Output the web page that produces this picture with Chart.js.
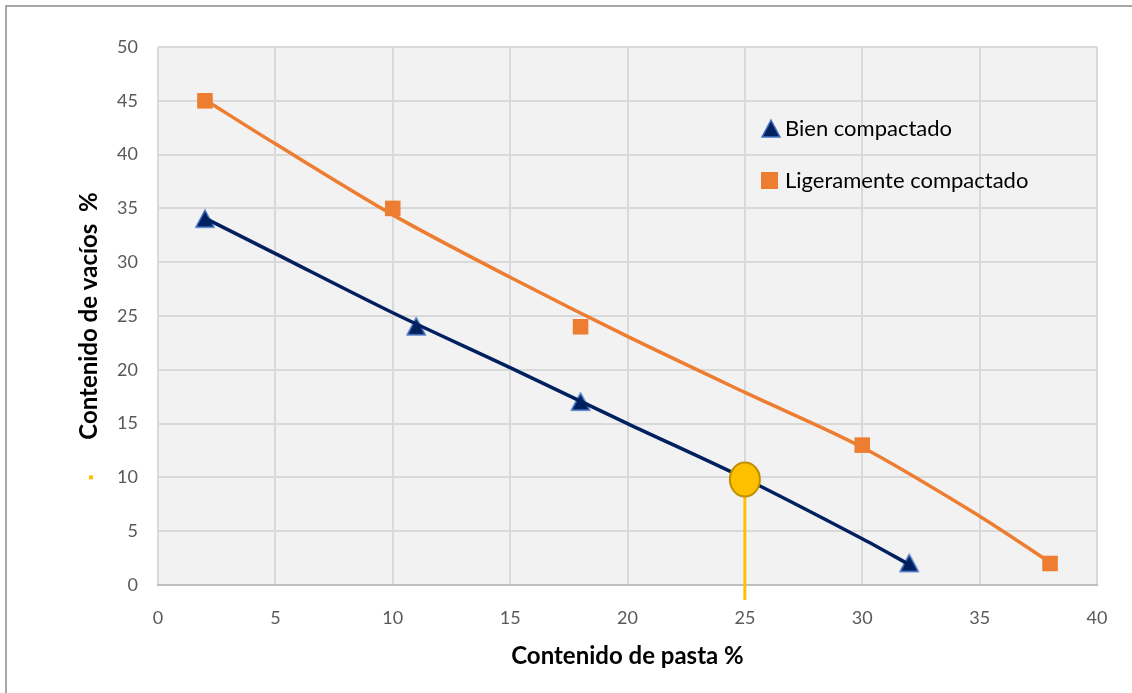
<!DOCTYPE html>
<html lang="es">
<head>
    <meta charset="UTF-8">
    <title>Contenido de vacíos vs contenido de pasta</title>
    <script src="https://cdn.jsdelivr.net/npm/chart.js"></script>
    <style>
        body { margin: 0; background: #fff; }
        #wrap { width: 1132px; height: 693px; position: relative; }
    </style>
</head>
<body>
<div id="wrap"><canvas id="chart" width="1132" height="693"></canvas></div>
<script>
    // measured points
    const bienX = [2, 11, 18, 32];
    const bienY = [34, 24, 17, 2];
    const ligX = [2, 10, 18, 30, 38];
    const ligY = [45, 35, 24, 13, 2];

    // trend lines
    const bienTrendX = [2, 5, 10, 15, 20, 25, 30, 32];
    const bienTrendY = [34.1, 30.8, 25.3, 20.2, 15.0, 9.9, 4.3, 1.9];
    const ligTrendX = [2, 5, 10, 15, 20, 25, 30, 35, 38];
    const ligTrendY = [45.1, 41.0, 34.4, 28.6, 23.1, 17.9, 12.8, 6.4, 2.1];

    // highlighted point
    const markX = [25];
    const markY = [9.8];

    const seriesNames = ['Bien compactado', 'Ligeramente compactado'];
    const xTicks = [0, 5, 10, 15, 20, 25, 30, 35, 40];
    const yTicks = [0, 5, 10, 15, 20, 25, 30, 35, 40, 45, 50];

    const navy = '#002060';
    const orange = '#ed7d31';
    const yellow = '#ffc000';
    const fontFam = 'Lato, "Open Sans", sans-serif';

    const toPts = (xs, ys) => xs.map((x, i) => ({ x: x, y: ys[i] }));

    function triangle(size) {
        const c = document.createElement('canvas');
        c.width = size + 4; c.height = size + 4;
        const g = c.getContext('2d');
        g.beginPath();
        g.moveTo(c.width / 2, 2);
        g.lineTo(c.width - 2, c.height - 3);
        g.lineTo(2, c.height - 3);
        g.closePath();
        g.fillStyle = navy;
        g.fill();
        g.lineWidth = 1.5;
        g.strokeStyle = '#4472c4';
        g.stroke();
        return c;
    }
    const triImg = triangle(18);

    const extras = {
        id: 'extras',
        beforeDraw(chart) {
            const { ctx, chartArea: a } = chart;
            ctx.save();
            ctx.fillStyle = '#f2f2f2';
            ctx.fillRect(a.left, a.top, a.right - a.left, a.bottom - a.top);
            // outer frame (top + left)
            ctx.strokeStyle = '#a6a6a6';
            ctx.lineWidth = 2;
            ctx.beginPath();
            ctx.moveTo(6, 693);
            ctx.lineTo(6, 6);
            ctx.lineTo(1132, 6);
            ctx.stroke();
            ctx.restore();
        },
        afterDatasetsDraw(chart) {
            const { ctx, scales: { x, y } } = chart;
            ctx.save();
            const px = x.getPixelForValue(markX[0]);
            const py = y.getPixelForValue(markY[0]);
            // drop line from highlighted point
            ctx.strokeStyle = yellow;
            ctx.lineWidth = 3;
            ctx.beginPath();
            ctx.moveTo(px, py);
            ctx.lineTo(px, y.bottom + 15);
            ctx.stroke();
            // ellipse marker
            ctx.beginPath();
            ctx.ellipse(px, py, 15, 17, 0, 0, Math.PI * 2);
            ctx.fillStyle = yellow;
            ctx.fill();
            ctx.lineWidth = 2;
            ctx.strokeStyle = '#bf9000';
            ctx.stroke();

            // small stray mark near the y labels
            ctx.fillStyle = yellow;
            ctx.fillRect(89, y.getPixelForValue(10) - 2, 4, 4);

            // legend inside the plot
            ctx.font = '22px ' + fontFam;
            ctx.textBaseline = 'middle';
            ctx.fillStyle = '#000';
            ctx.drawImage(triImg, 760, 118, 22, 22);
            ctx.fillText(seriesNames[0], 785, 129);
            ctx.fillStyle = orange;
            ctx.fillRect(761, 172, 17, 17);
            ctx.fillStyle = '#000';
            ctx.fillText(seriesNames[1], 785, 181);
            ctx.restore();
        }
    };

    new Chart(document.getElementById('chart'), {
        type: 'scatter',
        data: {
            datasets: [
                {
                    label: 'trend1',
                    data: toPts(bienTrendX, bienTrendY),
                    showLine: true,
                    borderColor: navy,
                    borderWidth: 3.5,
                    pointRadius: 0,
                    tension: 0.3
                },
                {
                    label: 'trend2',
                    data: toPts(ligTrendX, ligTrendY),
                    showLine: true,
                    borderColor: orange,
                    borderWidth: 3.5,
                    pointRadius: 0,
                    tension: 0.3
                },
                {
                    label: seriesNames[0],
                    data: toPts(bienX, bienY),
                    pointStyle: triImg,
                    pointRadius: 10
                },
                {
                    label: seriesNames[1],
                    data: toPts(ligX, ligY),
                    pointStyle: 'rect',
                    pointRadius: 11,
                    backgroundColor: orange,
                    borderColor: orange,
                    borderWidth: 0
                }
            ]
        },
        options: {
            responsive: false,
            animation: false,
            layout: { padding: { left: 0, top: 47, right: 35, bottom: 0 } },
            plugins: {
                legend: { display: false },
                tooltip: { enabled: false }
            },
            scales: {
                x: {
                    type: 'linear',
                    min: 0, max: 40,
                    afterBuildTicks: s => { s.ticks = xTicks.map(v => ({ value: v })); },
                    afterFit: s => { s.height = 108; },
                    grid: { color: '#d9d9d9', lineWidth: 2, drawTicks: false },
                    border: { color: '#bfbfbf', width: 2 },
                    ticks: { color: '#595959', font: { size: 18, family: fontFam }, padding: 22 },
                    title: {
                        display: true,
                        text: 'Contenido de pasta %',
                        color: '#000',
                        font: { size: 24, weight: 'bold', family: fontFam },
                        padding: { top: 0, bottom: 22 }
                    }
                },
                y: {
                    type: 'linear',
                    min: 0, max: 50,
                    afterBuildTicks: s => { s.ticks = yTicks.map(v => ({ value: v })); },
                    afterFit: s => { s.width = 158; },
                    grid: { color: '#d9d9d9', lineWidth: 2, drawTicks: false },
                    border: { display: false },
                    ticks: { color: '#595959', font: { size: 18, family: fontFam }, padding: 20 },
                    title: {
                        display: true,
                        text: 'Contenido de vacíos  %',
                        color: '#000',
                        font: { size: 24, weight: 'bold', family: fontFam },
                        padding: { top: 75, bottom: 0 }
                    }
                }
            }
        },
        plugins: [extras]
    });
</script>
</body>
</html>
